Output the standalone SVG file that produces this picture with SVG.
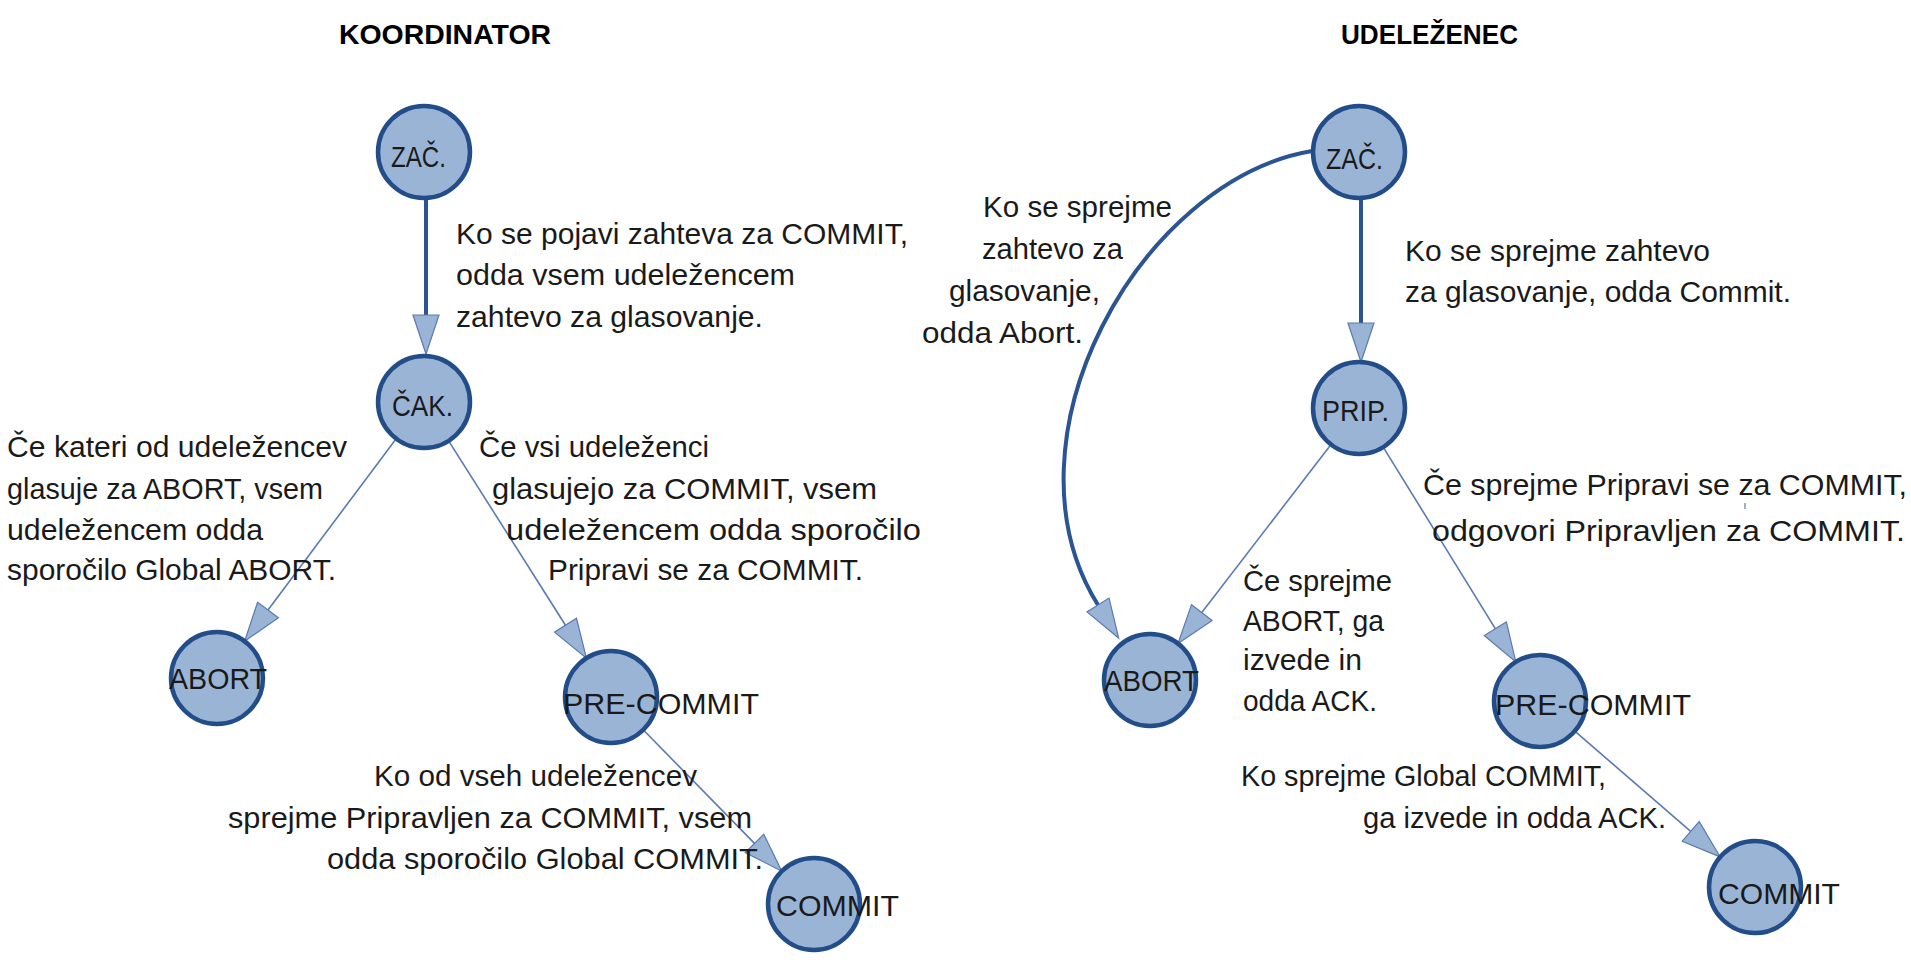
<svg xmlns="http://www.w3.org/2000/svg" width="1911" height="963" viewBox="0 0 1911 963">
<style>
text{font-family:"Liberation Sans",Arial,sans-serif;fill:#1a1a1a}
.t{font-size:30px}
.h{font-size:28px;font-weight:bold;fill:#000}
.n{font-size:30px}
.node circle{fill:#9AB4D6;stroke:#234D89;stroke-width:4.5}
.thick{fill:none;stroke:#2B5592;stroke-width:4}
.thin{fill:none;stroke:#5A7AB2;stroke-width:1.6}
</style>
<defs>
<marker id="ah" markerUnits="userSpaceOnUse" markerWidth="42" markerHeight="30" refX="0" refY="14" orient="auto" overflow="visible">
<path d="M0,1 L39,14 L0,27 Z" fill="#9AB4D6" stroke="#5A7AB2" stroke-width="1.2" stroke-linejoin="miter"/>
</marker>
</defs>
<rect width="1911" height="963" fill="#fff"/>
<g id="titles">
<text class="h" x="339" y="44" textLength="212" lengthAdjust="spacingAndGlyphs">KOORDINATOR</text>
<text class="h" x="1341" y="44" textLength="177" lengthAdjust="spacingAndGlyphs">UDELEŽENEC</text>
</g>
<g id="connectors">
<path class="thick" d="M426,198 L426,315" marker-end="url(#ah)"/>
<path class="thin" d="M396,439 L268,610" marker-end="url(#ah)"/>
<path class="thin" d="M448.6,440.9 L565.5,625.2" marker-end="url(#ah)"/>
<path class="thin" d="M643.2,729.8 L754.5,843.4" marker-end="url(#ah)"/>
<path class="thick" d="M1361,198 L1361,323" marker-end="url(#ah)"/>
<path class="thick" d="M1312,151 C1140,180 995,440 1098,605" marker-end="url(#ah)"/>
<path class="thin" d="M1331,444.5 L1201.8,612.6" marker-end="url(#ah)"/>
<path class="thin" d="M1383.2,447.1 L1495.3,628.7" marker-end="url(#ah)"/>
<path class="thin" d="M1574.8,731.1 L1690.7,831.4" marker-end="url(#ah)"/>
<path d="M1745,503 L1745,509" stroke="#5A7AB2" stroke-width="1.2"/>
</g>
<g id="labels">
<text class="t" x="456" y="244" textLength="452" lengthAdjust="spacingAndGlyphs">Ko se pojavi zahteva za COMMIT,</text>
<text class="t" x="456" y="285" textLength="339" lengthAdjust="spacingAndGlyphs">odda vsem udeležencem</text>
<text class="t" x="456" y="327" textLength="307" lengthAdjust="spacingAndGlyphs">zahtevo za glasovanje.</text>
<text class="t" x="7" y="457" textLength="340" lengthAdjust="spacingAndGlyphs">Če kateri od udeležencev</text>
<text class="t" x="7" y="499" textLength="316" lengthAdjust="spacingAndGlyphs">glasuje za ABORT, vsem</text>
<text class="t" x="7" y="540" textLength="256" lengthAdjust="spacingAndGlyphs">udeležencem odda</text>
<text class="t" x="7" y="580" textLength="329" lengthAdjust="spacingAndGlyphs">sporočilo Global ABORT.</text>
<text class="t" x="479" y="457" textLength="230" lengthAdjust="spacingAndGlyphs">Če vsi udeleženci</text>
<text class="t" x="492" y="499" textLength="385" lengthAdjust="spacingAndGlyphs">glasujejo za COMMIT, vsem</text>
<text class="t" x="506" y="540" textLength="415" lengthAdjust="spacingAndGlyphs">udeležencem odda sporočilo</text>
<text class="t" x="548" y="580" textLength="315" lengthAdjust="spacingAndGlyphs">Pripravi se za COMMIT.</text>
<text class="t" x="374" y="786" textLength="323" lengthAdjust="spacingAndGlyphs">Ko od vseh udeležencev</text>
<text class="t" x="228" y="828" textLength="524" lengthAdjust="spacingAndGlyphs">sprejme Pripravljen za COMMIT, vsem</text>
<text class="t" x="327" y="869" textLength="436" lengthAdjust="spacingAndGlyphs">odda sporočilo Global COMMIT.</text>
<text class="t" x="983" y="217" textLength="189" lengthAdjust="spacingAndGlyphs">Ko se sprejme</text>
<text class="t" x="982" y="259" textLength="141" lengthAdjust="spacingAndGlyphs">zahtevo za</text>
<text class="t" x="949" y="301" textLength="151" lengthAdjust="spacingAndGlyphs">glasovanje,</text>
<text class="t" x="922" y="343" textLength="161" lengthAdjust="spacingAndGlyphs">odda Abort.</text>
<text class="t" x="1405" y="261" textLength="305" lengthAdjust="spacingAndGlyphs">Ko se sprejme zahtevo</text>
<text class="t" x="1405" y="302" textLength="386" lengthAdjust="spacingAndGlyphs">za glasovanje, odda Commit.</text>
<text class="t" x="1423" y="495" textLength="484" lengthAdjust="spacingAndGlyphs">Če sprejme Pripravi se za COMMIT,</text>
<text class="t" x="1432" y="541" textLength="473" lengthAdjust="spacingAndGlyphs">odgovori Pripravljen za COMMIT.</text>
<text class="t" x="1243" y="591" textLength="149" lengthAdjust="spacingAndGlyphs">Če sprejme</text>
<text class="t" x="1243" y="631" textLength="141" lengthAdjust="spacingAndGlyphs">ABORT, ga</text>
<text class="t" x="1243" y="670" textLength="119" lengthAdjust="spacingAndGlyphs">izvede in</text>
<text class="t" x="1243" y="711" textLength="134" lengthAdjust="spacingAndGlyphs">odda ACK.</text>
<text class="t" x="1241" y="786" textLength="365" lengthAdjust="spacingAndGlyphs">Ko sprejme Global COMMIT,</text>
<text class="t" x="1363" y="828" textLength="303" lengthAdjust="spacingAndGlyphs">ga izvede in odda ACK.</text>
</g>
<g id="k-zac" class="node"><circle cx="424" cy="152" r="46"/><text class="n" x="391" y="167" textLength="55" lengthAdjust="spacingAndGlyphs">ZAČ.</text></g>
<g id="k-cak" class="node"><circle cx="424" cy="402" r="46"/><text class="n" x="392" y="416" textLength="61" lengthAdjust="spacingAndGlyphs">ČAK.</text></g>
<g id="k-abort" class="node"><circle cx="217" cy="678" r="46"/><text class="n" x="169" y="689" textLength="98" lengthAdjust="spacingAndGlyphs">ABORT</text></g>
<g id="k-precommit" class="node"><circle cx="611" cy="697" r="46"/><text class="n" x="563" y="714" textLength="196" lengthAdjust="spacingAndGlyphs">PRE-COMMIT</text></g>
<g id="k-commit" class="node"><circle cx="814" cy="904" r="46"/><text class="n" x="776" y="916" textLength="123" lengthAdjust="spacingAndGlyphs">COMMIT</text></g>
<g id="u-zac" class="node"><circle cx="1359" cy="152" r="46"/><text class="n" x="1326" y="169" textLength="57" lengthAdjust="spacingAndGlyphs">ZAČ.</text></g>
<g id="u-prip" class="node"><circle cx="1359" cy="408" r="46"/><text class="n" x="1322" y="421" textLength="67" lengthAdjust="spacingAndGlyphs">PRIP.</text></g>
<g id="u-abort" class="node"><circle cx="1150" cy="680" r="46"/><text class="n" x="1104" y="691" textLength="95" lengthAdjust="spacingAndGlyphs">ABORT</text></g>
<g id="u-precommit" class="node"><circle cx="1540" cy="701" r="46"/><text class="n" x="1495" y="715" textLength="196" lengthAdjust="spacingAndGlyphs">PRE-COMMIT</text></g>
<g id="u-commit" class="node"><circle cx="1755" cy="887" r="46"/><text class="n" x="1718" y="904" textLength="122" lengthAdjust="spacingAndGlyphs">COMMIT</text></g>
</svg>
